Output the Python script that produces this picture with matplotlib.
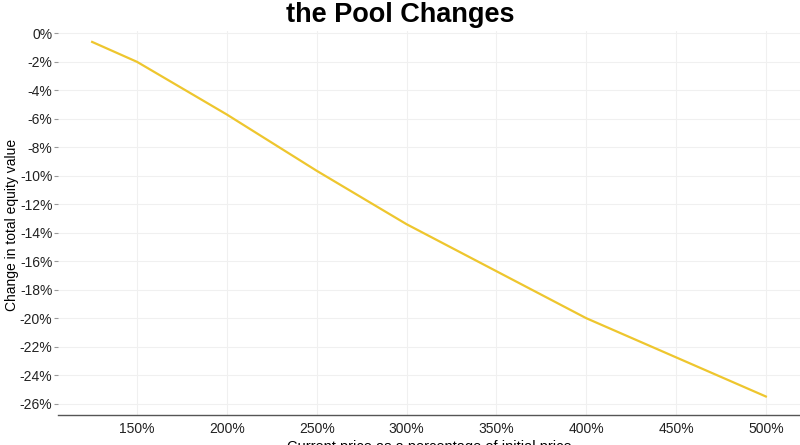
import matplotlib.pyplot as plt
from matplotlib.ticker import FuncFormatter

plt.rcParams['font.family'] = ['Liberation Sans', 'DejaVu Sans']

# price as % of initial price, change in total equity value (%)
price_pct = [125, 150, 200, 250, 300, 400, 500]
equity_change = [-0.6, -2.0, -5.7, -9.65, -13.4, -20.0, -25.5]

x_ticks = [150, 200, 250, 300, 350, 400, 450, 500]
y_ticks = [0, -2, -4, -6, -8, -10, -12, -14, -16, -18, -20, -22, -24, -26]

fig = plt.figure(figsize=(8, 4.45), dpi=100)
ax = fig.add_axes([0.0725, 0.0674, 0.9275, 0.864])

ax.plot(price_pct, equity_change, color='#EEC62E', linewidth=1.6)

ax.set_xlim(106, 519)
ax.set_ylim(-26.8, 0.2)
ax.set_xticks(x_ticks)
ax.set_yticks(y_ticks)
ax.xaxis.set_major_formatter(FuncFormatter(lambda v, p: f'{v:.0f}%'))
ax.yaxis.set_major_formatter(FuncFormatter(lambda v, p: f'{v:.0f}%'))

ax.grid(True, color='#f0f0f0', linewidth=0.8)
ax.set_axisbelow(True)
for s in ['top', 'right', 'left']:
    ax.spines[s].set_visible(False)
ax.spines['bottom'].set_color('#555555')
ax.spines['bottom'].set_linewidth(1.0)

ax.tick_params(axis='x', length=0, labelsize=10, pad=5, labelcolor='#222222')
ax.tick_params(axis='y', length=3, color='#999999', labelsize=10, pad=1, labelcolor='#222222')

ax.set_xlabel('Current price as a percentage of initial price', fontsize=10.5, labelpad=3)
ax.set_ylabel('Change in total equity value', fontsize=10)
ax.yaxis.set_label_coords(-0.0526, 0.494)

fig.text(0.5, 0.951, 'the Pool Changes', ha='center', va='baseline',
         fontsize=19.5, fontweight='bold')

fig.savefig('out.png', dpi=100)
